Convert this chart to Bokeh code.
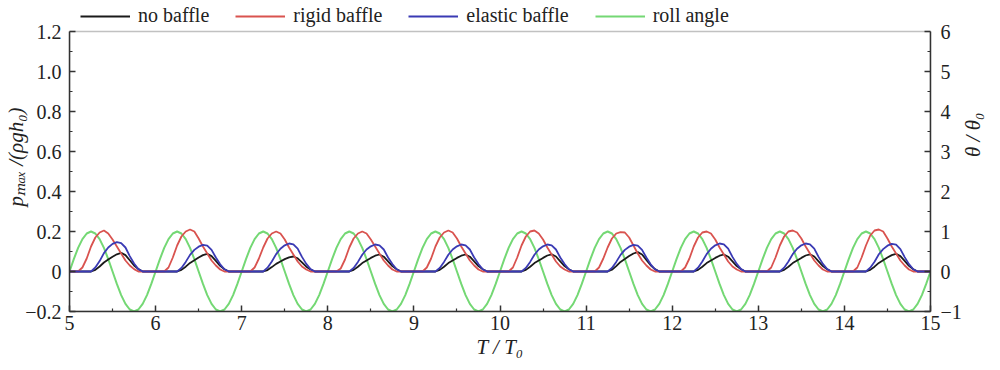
from bokeh.plotting import figure
from bokeh.models import (Range1d, LinearAxis, FixedTicker, Legend, LegendItem,
                          CustomJSTickFormatter, BoxAnnotation, InlineStyleSheet)
from bokeh.embed import file_html
from bokeh.resources import INLINE

# time grid T/T0 (step 0.05)
T = [round(5 + 0.05 * i, 2) for i in range(201)]

no_baffle = [
    0, 0, 0, 0, 0, 0, 0.008, 0.025, 0.045, 0.06, 0.074, 0.086, 0.093, 0.082, 0.056, 0.03, 0.012, 0, 0, 0,
    0, 0, 0, 0, 0, 0, 0.008, 0.024, 0.043, 0.056, 0.07, 0.082, 0.088, 0.077, 0.053, 0.028, 0.011, 0, 0, 0,
    0, 0, 0, 0, 0, 0, 0.007, 0.022, 0.038, 0.05, 0.062, 0.071, 0.075, 0.066, 0.046, 0.024, 0.01, 0, 0, 0,
    0, 0, 0, 0, 0, 0, 0.008, 0.024, 0.042, 0.055, 0.068, 0.079, 0.085, 0.074, 0.051, 0.027, 0.011, 0, 0, 0,
    0, 0, 0, 0, 0, 0, 0.008, 0.024, 0.042, 0.055, 0.068, 0.079, 0.085, 0.074, 0.051, 0.027, 0.011, 0, 0, 0,
    0, 0, 0, 0, 0, 0, 0.008, 0.024, 0.042, 0.055, 0.068, 0.08, 0.086, 0.075, 0.051, 0.027, 0.011, 0, 0, 0,
    0, 0, 0, 0, 0, 0, 0.009, 0.027, 0.048, 0.062, 0.077, 0.09, 0.097, 0.085, 0.058, 0.031, 0.012, 0, 0, 0,
    0, 0, 0, 0, 0, 0, 0.008, 0.024, 0.042, 0.055, 0.068, 0.079, 0.085, 0.074, 0.051, 0.027, 0.011, 0, 0, 0,
    0, 0, 0, 0, 0, 0, 0.008, 0.024, 0.042, 0.055, 0.068, 0.08, 0.086, 0.075, 0.051, 0.027, 0.011, 0, 0, 0,
    0, 0, 0, 0, 0, 0, 0.008, 0.024, 0.043, 0.056, 0.07, 0.082, 0.088, 0.077, 0.053, 0.028, 0.011, 0, 0, 0,
    0,
]

rigid_baffle = [
    0, 0, 0, 0.02, 0.065, 0.125, 0.17, 0.195, 0.205, 0.19, 0.16, 0.125, 0.09, 0.055, 0.03, 0.012, 0, 0, 0, 0,
    0, 0, 0, 0.02, 0.07, 0.13, 0.175, 0.2, 0.21, 0.2, 0.165, 0.125, 0.09, 0.055, 0.03, 0.01, 0, 0, 0, 0,
    0, 0, 0, 0.02, 0.065, 0.12, 0.165, 0.19, 0.2, 0.19, 0.16, 0.12, 0.085, 0.05, 0.025, 0.01, 0, 0, 0, 0,
    0, 0, 0, 0.015, 0.06, 0.12, 0.165, 0.19, 0.2, 0.19, 0.16, 0.125, 0.09, 0.055, 0.03, 0.01, 0, 0, 0, 0,
    0, 0, 0, 0.02, 0.065, 0.125, 0.17, 0.195, 0.205, 0.195, 0.165, 0.125, 0.09, 0.055, 0.03, 0.01, 0, 0, 0, 0,
    0, 0, 0, 0.02, 0.07, 0.13, 0.175, 0.2, 0.205, 0.19, 0.16, 0.12, 0.085, 0.05, 0.025, 0.01, 0, 0, 0, 0,
    0, 0, 0, 0.02, 0.065, 0.12, 0.165, 0.19, 0.197, 0.195, 0.17, 0.13, 0.09, 0.055, 0.03, 0.01, 0, 0, 0, 0,
    0, 0, 0, 0.02, 0.065, 0.125, 0.17, 0.195, 0.2, 0.19, 0.16, 0.12, 0.085, 0.05, 0.025, 0.01, 0, 0, 0, 0,
    0, 0, 0, 0.02, 0.07, 0.13, 0.175, 0.2, 0.205, 0.195, 0.165, 0.125, 0.09, 0.055, 0.03, 0.01, 0, 0, 0, 0,
    0, 0, 0, 0.02, 0.07, 0.13, 0.18, 0.205, 0.21, 0.2, 0.165, 0.125, 0.09, 0.055, 0.03, 0.01, 0, 0, 0, 0,
    0,
]

elastic_baffle = [
    0, 0, 0, 0, 0, 0, 0.02, 0.052, 0.092, 0.12, 0.138, 0.147, 0.142, 0.12, 0.077, 0.04, 0.012, 0, 0, 0,
    0, 0, 0, 0, 0, 0, 0.018, 0.048, 0.083, 0.108, 0.124, 0.133, 0.129, 0.108, 0.07, 0.036, 0.011, 0, 0, 0,
    0, 0, 0, 0, 0, 0, 0.019, 0.05, 0.087, 0.114, 0.131, 0.14, 0.136, 0.114, 0.073, 0.038, 0.012, 0, 0, 0,
    0, 0, 0, 0, 0, 0, 0.018, 0.048, 0.084, 0.11, 0.126, 0.135, 0.131, 0.11, 0.07, 0.037, 0.011, 0, 0, 0,
    0, 0, 0, 0, 0, 0, 0.018, 0.048, 0.084, 0.11, 0.126, 0.135, 0.131, 0.11, 0.07, 0.037, 0.011, 0, 0, 0,
    0, 0, 0, 0, 0, 0, 0.018, 0.048, 0.084, 0.11, 0.126, 0.135, 0.131, 0.11, 0.07, 0.037, 0.011, 0, 0, 0,
    0, 0, 0, 0, 0, 0, 0.018, 0.048, 0.083, 0.108, 0.124, 0.133, 0.129, 0.108, 0.07, 0.036, 0.011, 0, 0, 0,
    0, 0, 0, 0, 0, 0, 0.019, 0.05, 0.087, 0.114, 0.131, 0.14, 0.136, 0.114, 0.073, 0.038, 0.012, 0, 0, 0,
    0, 0, 0, 0, 0, 0, 0.019, 0.05, 0.087, 0.114, 0.131, 0.14, 0.136, 0.114, 0.073, 0.038, 0.012, 0, 0, 0,
    0, 0, 0, 0, 0, 0, 0.019, 0.049, 0.086, 0.112, 0.129, 0.138, 0.134, 0.112, 0.072, 0.037, 0.011, 0, 0, 0,
    0,
]

roll_angle = [
    0, 0.31, 0.59, 0.81, 0.95, 1.0, 0.95, 0.81, 0.59, 0.31, 0, -0.31, -0.59, -0.81, -0.95, -1.0, -0.95, -0.81, -0.59, -0.31,
    0, 0.31, 0.59, 0.81, 0.95, 1.0, 0.95, 0.81, 0.59, 0.31, 0, -0.31, -0.59, -0.81, -0.95, -1.0, -0.95, -0.81, -0.59, -0.31,
    0, 0.31, 0.59, 0.81, 0.95, 1.0, 0.95, 0.81, 0.59, 0.31, 0, -0.31, -0.59, -0.81, -0.95, -1.0, -0.95, -0.81, -0.59, -0.31,
    0, 0.31, 0.59, 0.81, 0.95, 1.0, 0.95, 0.81, 0.59, 0.31, 0, -0.31, -0.59, -0.81, -0.95, -1.0, -0.95, -0.81, -0.59, -0.31,
    0, 0.31, 0.59, 0.81, 0.95, 1.0, 0.95, 0.81, 0.59, 0.31, 0, -0.31, -0.59, -0.81, -0.95, -1.0, -0.95, -0.81, -0.59, -0.31,
    0, 0.31, 0.59, 0.81, 0.95, 1.0, 0.95, 0.81, 0.59, 0.31, 0, -0.31, -0.59, -0.81, -0.95, -1.0, -0.95, -0.81, -0.59, -0.31,
    0, 0.31, 0.59, 0.81, 0.95, 1.0, 0.95, 0.81, 0.59, 0.31, 0, -0.31, -0.59, -0.81, -0.95, -1.0, -0.95, -0.81, -0.59, -0.31,
    0, 0.31, 0.59, 0.81, 0.95, 1.0, 0.95, 0.81, 0.59, 0.31, 0, -0.31, -0.59, -0.81, -0.95, -1.0, -0.95, -0.81, -0.59, -0.31,
    0, 0.31, 0.59, 0.81, 0.95, 1.0, 0.95, 0.81, 0.59, 0.31, 0, -0.31, -0.59, -0.81, -0.95, -1.0, -0.95, -0.81, -0.59, -0.31,
    0, 0.31, 0.59, 0.81, 0.95, 1.0, 0.95, 0.81, 0.59, 0.31, 0, -0.31, -0.59, -0.81, -0.95, -1.0, -0.95, -0.81, -0.59, -0.31,
    0,
]

x_ticks = [5, 6, 7, 8, 9, 10, 11, 12, 13, 14, 15]
x_minor = [5.5, 6.5, 7.5, 8.5, 9.5, 10.5, 11.5, 12.5, 13.5, 14.5]
y_ticks = [-0.2, 0, 0.2, 0.4, 0.6, 0.8, 1, 1.2]
y_labels = ["\u22120.2", "0", "0.2", "0.4", "0.6", "0.8", "1.0", "1.2"]
y_minor = [-0.1, 0.1, 0.3, 0.5, 0.7, 0.9, 1.1]
r_ticks = [-1, 0, 1, 2, 3, 4, 5, 6]
r_labels = ["\u22121", "0", "1", "2", "3", "4", "5", "6"]
r_minor = [-0.5, 0.5, 1.5, 2.5, 3.5, 4.5, 5.5]

FONT = "serif"
AX = "#333333"
LOOKUP = ("const i = tv.findIndex(t => Math.abs(t - tick) < 1e-9);"
          "return i >= 0 ? tl[i] : '';")
SERIF_CSS = (":host { font-family: 'Liberation Serif', 'Times New Roman', serif !important; } "
             "text, tspan { font-family: 'Liberation Serif', 'Times New Roman', serif !important; }")

# frame extends to the top of the canvas so the legend (inside the frame) sits above the axes box
p = figure(width=1000, height=370, x_range=Range1d(5, 15), y_range=Range1d(-0.2, 1.345),
           x_axis_type=None, y_axis_type=None,
           output_backend="svg", toolbar_location=None,
           min_border_left=69, min_border_right=70, min_border_top=2, min_border_bottom=59)
p.stylesheets = [InlineStyleSheet(css=SERIF_CSS)]
p.extra_y_ranges = {"theta": Range1d(-1, 6.725)}
p.outline_line_color = None
p.background_fill_color = "white"
p.border_fill_color = "white"

def style(ax):
    ax.axis_line_color = AX
    ax.axis_line_width = 1.5
    ax.major_tick_line_color = AX
    ax.minor_tick_line_color = AX
    ax.major_tick_line_width = 1.5
    ax.minor_tick_line_width = 1.2
    ax.major_tick_in = 6
    ax.major_tick_out = 0
    ax.minor_tick_in = 3
    ax.minor_tick_out = 0
    ax.major_label_text_font = FONT
    ax.major_label_text_font_size = "20px"
    ax.major_label_text_color = "#222222"
    ax.axis_label_text_font = FONT
    ax.axis_label_text_font_size = "21px"
    ax.axis_label_text_font_style = "italic"
    ax.axis_label_text_color = "#222222"

xb = LinearAxis(ticker=FixedTicker(ticks=x_ticks, minor_ticks=x_minor), axis_label="T / T\u2080")
style(xb)
xb.major_label_standoff = 4
xb.axis_label_standoff = 2
p.add_layout(xb, "below")

yl = LinearAxis(ticker=FixedTicker(ticks=y_ticks, minor_ticks=y_minor),
                formatter=CustomJSTickFormatter(args=dict(tv=y_ticks, tl=y_labels), code=LOOKUP),
                axis_label="p\u2098\u2090\u2093 /(\u03c1gh\u2080)", bounds=(y_ticks[0], y_ticks[-1]))
style(yl)
yl.major_label_standoff = 8
yl.axis_label_standoff = -6
p.add_layout(yl, "left")

yr = LinearAxis(y_range_name="theta", ticker=FixedTicker(ticks=r_ticks, minor_ticks=r_minor),
                formatter=CustomJSTickFormatter(args=dict(tv=r_ticks, tl=r_labels), code=LOOKUP),
                axis_label="\u03b8 / \u03b8\u2080", bounds=(r_ticks[0], r_ticks[-1]))
style(yr)
yr.major_label_standoff = 10
yr.axis_label_standoff = 8
yr.axis_label_orientation = 1.5707963
p.add_layout(yr, "right")

# axes box
p.add_layout(BoxAnnotation(left=x_ticks[0], right=x_ticks[-1], bottom=y_ticks[0], top=y_ticks[-1],
                           fill_alpha=0, line_color=AX, line_width=1.5))

g = p.line(T, roll_angle, y_range_name="theta", line_color="#74d874", line_width=2)
k = p.line(T, no_baffle, line_color="#1a1a1a", line_width=1.8)
r = p.line(T, rigid_baffle, line_color="#d9534f", line_width=1.8)
b = p.line(T, elastic_baffle, line_color="#3a3ab4", line_width=1.8)

legend = Legend(items=[LegendItem(label="no baffle", renderers=[k]),
                       LegendItem(label="rigid baffle", renderers=[r]),
                       LegendItem(label="elastic baffle", renderers=[b]),
                       LegendItem(label="roll angle", renderers=[g])],
                orientation="horizontal", location=(9, 282),
                border_line_alpha=0, background_fill_alpha=0,
                label_text_font=FONT, label_text_font_size="20px", label_text_color="#222222",
                glyph_width=50, glyph_height=20, label_standoff=8, spacing=26,
                padding=2, margin=0)
p.add_layout(legend, "center")

open("out.html", "w").write(file_html(p, INLINE))
